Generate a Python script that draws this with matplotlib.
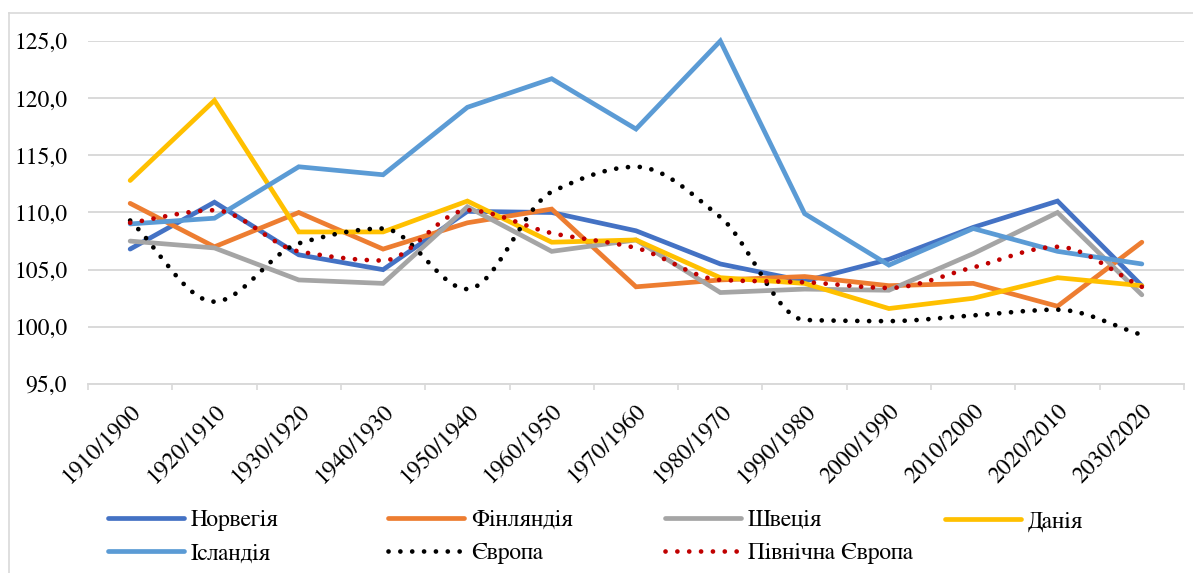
import numpy as np
import matplotlib
matplotlib.use("Agg")
import matplotlib.pyplot as plt
from matplotlib.path import Path
from matplotlib.patches import PathPatch
from matplotlib.lines import Line2D

plt.rcParams['font.family'] = ['FreeSerif', 'Liberation Serif', 'DejaVu Serif']

periods = ["1910/1900", "1920/1910", "1930/1920", "1940/1930", "1950/1940", "1960/1950",
           "1970/1960", "1980/1970", "1990/1980", "2000/1990", "2010/2000", "2020/2010", "2030/2020"]

norway = [106.8, 110.9, 106.3, 105.0, 110.1, 110.0, 108.4, 105.5, 104.0, 105.9, 108.7, 111.0, 103.6]
finland = [110.8, 107.0, 110.0, 106.8, 109.1, 110.3, 103.5, 104.1, 104.4, 103.6, 103.8, 101.8, 107.4]
sweden = [107.5, 106.9, 104.1, 103.8, 110.5, 106.6, 107.6, 103.0, 103.3, 103.2, 106.4, 110.0, 102.8]
denmark = [112.8, 119.8, 108.3, 108.3, 111.0, 107.4, 107.6, 104.3, 103.8, 101.6, 102.5, 104.3, 103.6]
iceland = [109.0, 109.5, 114.0, 113.3, 119.2, 121.7, 117.3, 125.0, 109.9, 105.4, 108.6, 106.6, 105.5]
europe = [109.3, 102.2, 107.3, 108.6, 103.3, 111.8, 114.0, 109.6, 100.6, 100.5, 101.0, 101.5, 99.3]
north_europe = [109.1, 110.2, 106.6, 105.8, 110.2, 108.2, 106.9, 104.1, 103.9, 103.4, 105.2, 107.0, 103.5]

solid_series = [
    ("Норвегія", norway, "#4472C4"),
    ("Фінляндія", finland, "#ED7D31"),
    ("Швеція", sweden, "#A5A5A5"),
    ("Данія", denmark, "#FFC000"),
    ("Ісландія", iceland, "#5B9BD5"),
]
dotted_series = [
    ("Європа", europe, "#000000"),
    ("Північна Європа", north_europe, "#C00000"),
]

LW = 3.4
DOTS = (0, (0.01, 2.5))


def smooth_path(x, y):
    # smoothed line drawn as cubic Bezier segments through the points,
    # tangents limited so the curve does not overshoot flat stretches
    x = np.asarray(x, float)
    y = np.asarray(y, float)
    n = len(y)
    d = np.diff(y) / np.diff(x)
    m = np.zeros(n)
    m[0], m[-1] = d[0], d[-1]
    for i in range(1, n - 1):
        if d[i - 1] * d[i] > 0:
            m[i] = 2 * d[i - 1] * d[i] / (d[i - 1] + d[i])
    verts = [(x[0], y[0])]
    codes = [Path.MOVETO]
    for i in range(n - 1):
        h = x[i + 1] - x[i]
        verts += [(x[i] + h / 3, y[i] + m[i] * h / 3),
                  (x[i + 1] - h / 3, y[i + 1] - m[i + 1] * h / 3),
                  (x[i + 1], y[i + 1])]
        codes += [Path.CURVE4] * 3
    return Path(verts, codes)


fig = plt.figure(figsize=(11.93, 5.73), dpi=100)
ax = fig.add_axes([88 / 1193, 1 - 384 / 573, (1184 - 88) / 1193, (384 - 41) / 573])

x = np.arange(len(periods))
handles = []
for name, vals, col in solid_series:
    ln, = ax.plot(x, vals, color=col, lw=LW, solid_capstyle='round',
                  solid_joinstyle='miter', label=name, clip_on=False, zorder=3)
    handles.append(ln)
for name, vals, col in dotted_series:
    patch = PathPatch(smooth_path(x, vals), fill=False, edgecolor=col, lw=LW,
                      linestyle=DOTS, capstyle='round', clip_on=False, zorder=3)
    ax.add_patch(patch)
    handles.append(Line2D([], [], color=col, lw=LW, linestyle=DOTS,
                          dash_capstyle='round', label=name))

ax.set_xlim(-0.5, len(periods) - 0.5)
ax.set_ylim(95, 125)
ax.set_yticks(np.arange(95, 126, 5))
ax.set_yticklabels([f"{v:.1f}".replace(".", ",") for v in np.arange(95, 126, 5)])
ax.set_xticks(x)
ax.set_xticklabels(periods, rotation=45, ha='right', va='top', rotation_mode='anchor')
ax.set_xticks(np.arange(-0.5, len(periods)), minor=True)

ax.tick_params(axis='y', length=0, pad=15, labelsize=17)
ax.tick_params(axis='x', which='major', length=0, pad=12, labelsize=17)
ax.tick_params(axis='x', which='minor', length=4.5, width=1.2, color='#D9D9D9', direction='out')

ax.grid(axis='y', color='#D9D9D9', lw=1.4, zorder=0)
ax.set_axisbelow(True)
for s in ['top', 'right', 'left']:
    ax.spines[s].set_visible(False)
ax.spines['bottom'].set_color('#D9D9D9')
ax.spines['bottom'].set_linewidth(1.4)

# legend: 4 columns at fixed Excel-like positions
col_x = [108, 388, 665, 945]
columns = [[handles[0], handles[4]], [handles[1], handles[5]], [handles[2], handles[6]], [handles[3]]]
for cx, hs in zip(col_x, columns):
    yc = 537 if len(hs) == 2 else 521.5
    fig.legend(handles=hs, loc='center left', bbox_to_anchor=(cx / 1193, 1 - yc / 573),
               frameon=False, fontsize=17, handlelength=3.2, handletextpad=0.3,
               labelspacing=0.5, borderpad=0, borderaxespad=0)

# chart area border (top and left edges visible)
fig.add_artist(Line2D([9 / 1193, 1], [1 - 12.5 / 573] * 2, color='#D9D9D9', lw=1.2))
fig.add_artist(Line2D([9 / 1193] * 2, [0, 1 - 12.5 / 573], color='#D9D9D9', lw=1.2))

fig.savefig("out.png", dpi=100)
